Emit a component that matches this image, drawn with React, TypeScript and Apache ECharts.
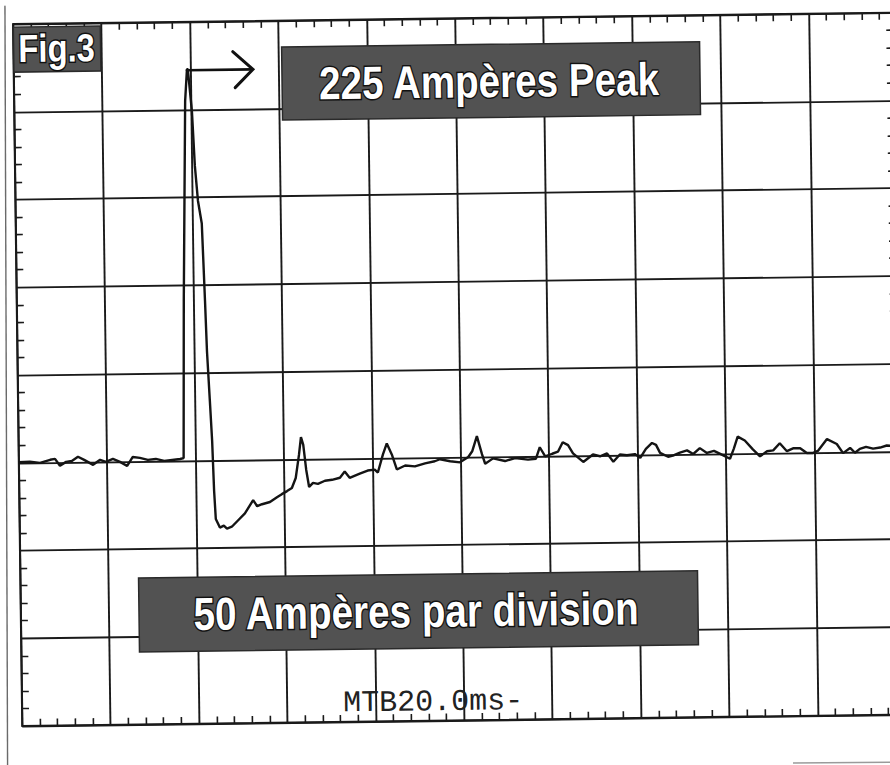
import { useEffect, useRef } from "react";
import * as echarts from "echarts";

// Oscilloscope trace: time (ms) and current (A)
const timeMs = [
  0, 2.5, 4.8, 7.1, 8.2, 9.3, 10.7, 12.0, 13.4, 14.8, 16.8, 18.4, 19.7, 21.3, 22.9, 24.5, 25.8, 27.4, 29.2, 31.0,
  32.9, 34.7, 36.5, 37.3,
  37.8, 38.7, 39.2, 39.4, 40.2, 40.7, 41.3, 42.1, 42.6, 42.9, 43.4, 43.8, 44.1, 44.4,
  45.3, 46.2, 46.9, 48.0, 49.4, 51.0, 52.9, 53.8, 54.9, 56.7, 58.3, 59.4, 60.6, 61.7, 62.6, 63.4, 63.9, 64.4, 65.0,
  65.6, 66.5, 67.6, 69.2, 70.8, 72.6, 73.7, 74.8, 77.1, 78.9, 80.5, 81.2, 82.4, 83.3, 84.4, 85.5, 87.4, 89.6, 91.9,
  94.1, 95.3,
  97.6, 99.8, 101.7, 102.6, 103.7, 104.8, 105.5, 107.3, 110.0, 112.3, 115.2, 117.0, 117.9, 119.1, 120.7, 122.0,
  123.1, 124.3, 125.4, 127.7, 129.9, 131.5, 133.1, 134.5, 136.0, 137.6, 139.4, 140.6, 141.9, 143.3, 144.2, 145.1,
  146.9, 148.0, 149.6, 151.2, 152.6, 154.1, 155.7, 157.3, 158.7, 160.9, 161.8, 162.7, 164.3, 166.1, 167.7, 169.3,
  170.7, 172.2, 173.8, 175.2, 176.8, 178.3, 179.7, 180.8, 182.9, 185.1, 186.5, 188.1, 189.2, 190.3, 191.7, 193.3,
  194.9, 196.4, 198.2, 200,
];
const currentA = [
  0.3, 0.5, -0.2, 1.5, 2.0, -2.0, 0.2, 0.7, 3.0, 1.2, -1.7, 1.1, -0.1, 1.5, -0.2, -2.6, 2.5, 1.9, 0.7, 1.2,
  0, 0.5, 1.0, 1.5,
  91, 205, 223, 223, 199, 168, 148, 135, 91, 62, 34, 11, -17.5, -33.5,
  -38.4, -37.3, -39, -38, -34.5, -30.5, -23, -26.5, -25.4, -24.2, -21.5, -19.8, -18.1, -16.4, -10.7, 2.4, 12.6, 8.1,
  -6.2, -15.9, -13.6, -14.2, -12.5, -12, -10.9, -7.4, -11, -8.7, -7, -6.5, -8.2, 2.1, 8.3, 2, -6.6, -4.4, -5, -3.3,
  -2.2, -1.1,
  -2.3, -3, 0, 3.2, 11.8, 1.5, -4, -1, -2.6, -1, -2, -1.5, 5, -0.3, 1.2, 2.3, 7.7, 6, 1.3, -3.7,
  0.5, -0.6, 1, -3.8, 0.3, -0.2, 0.4, -1.8, 3.3, 6.6, 5.5, 0.9, -1.4, -0.8, 0.9, 2.1, 0, 3.3, 0.5, 1.6,
  -0.1, -3, 2.8, 9.6, 7.3, 2.2, -1.8, 1, 1.5, 5.5, 0.9, 2.5, 2.5, -0.3, -0.3, 0.8, 7.5, 4.6, -0.6, 2.3,
  -0.5, 1.7, 2.8, 1.7, 2.3, 3.4, 3, 2.5,
];

// Axis ranges: 20 ms / division, 50 A / division
const xRange = [0, 200];
const xStep = 20;
const yRange = [-150, 250];
const yStep = 50;

// Texts
const figLabel = "Fig.3";
const peakLabel = "225 Ampères Peak";
const scaleLabel = "50 Ampères par division";
const timebaseLabel = "MTB20.0ms-";

const INK = "#1a1a1a";
const BOLD_FONT = '"Liberation Sans", Arial, sans-serif';

export default function App() {
  const ref = useRef<HTMLDivElement>(null);

  useEffect(() => {
    if (!ref.current) return;
    const chart = echarts.init(ref.current, undefined, { renderer: "svg" });
    const data = timeMs.map((t, i) => [t, currentA[i]]);

    const tickStyle = { color: INK, width: 1.6 };
    const baseX = {
      type: "value" as const,
      min: xRange[0],
      max: xRange[1],
      interval: xStep,
      axisLine: { show: false, onZero: false },
      axisLabel: { show: false },
      axisTick: { show: false, inside: true },
      minorTick: { show: true, splitNumber: 5, length: 7, lineStyle: tickStyle },
      minorSplitLine: { show: false },
    };
    const baseY = {
      type: "value" as const,
      min: yRange[0],
      max: yRange[1],
      interval: yStep,
      axisLine: { show: false, onZero: false },
      axisLabel: { show: false },
      axisTick: { show: false, inside: true },
      minorTick: { show: true, splitNumber: 5, length: 7, lineStyle: tickStyle },
      minorSplitLine: { show: false },
    };

    chart.setOption({
      animation: false,
      backgroundColor: "transparent",
      grid: {
        left: 17.8,
        top: 18.5,
        width: 884,
        height: 702,
        show: true,
        borderColor: INK,
        borderWidth: 2,
        backgroundColor: "transparent",
      },
      xAxis: [
        { ...baseX, position: "bottom", splitLine: { show: true, lineStyle: { color: INK, width: 1.9 } } },
        { ...baseX, position: "top", splitLine: { show: false } },
      ],
      yAxis: [
        { ...baseY, position: "left", splitLine: { show: true, lineStyle: { color: INK, width: 1.9 } } },
        {
          ...baseY,
          position: "right",
          splitLine: { show: false },
          minorTick: { show: true, splitNumber: 5, length: 11, lineStyle: tickStyle },
        },
      ],
      series: [
        {
          type: "line",
          xAxisIndex: 0,
          yAxisIndex: 0,
          data,
          showSymbol: false,
          symbol: "none",
          lineStyle: { color: "#141414", width: 2.4 },
          z: 5,
        },
      ],
    });

    // peak position from the data, for the arrow annotation
    let pk = 0;
    currentA.forEach((v, i) => {
      if (v > currentA[pk]) pk = i;
    });
    const p = chart.convertToPixel({ gridIndex: 0 }, [timeMs[pk], currentA[pk]]) as number[];
    const ax = p[0];
    const ay = p[1] + 1;
    const tipX = ax + 66;

    const boxStyle = { fill: "#525252", stroke: "#2a2a2a", lineWidth: 1.5 };
    const labelText = (text: string, x: number, y: number, size: number) => ({
      type: "text",
      x,
      y,
      scaleX: 0.84,
      z: 20,
      style: {
        text,
        fill: "#ffffff",
        stroke: "#111111",
        lineWidth: 3,
        strokeFirst: true,
        font: `bold ${size}px ${BOLD_FONT}`,
        align: "center",
        verticalAlign: "middle",
      },
    });

    chart.setOption({
      graphic: [
        // page edge
        { type: "line", z: 1, shape: { x1: 10, y1: -8, x2: 2.5, y2: 770 }, style: { stroke: "#6a6a6a", lineWidth: 1.4 } },
        { type: "line", z: 1, shape: { x1: 788, y1: 767.5, x2: 900, y2: 768 }, style: { stroke: "#9a9a9a", lineWidth: 1.5 } },
        // Fig.3
        { type: "rect", z: 10, shape: { x: 18, y: 21.5, width: 87, height: 45 }, style: boxStyle },
        labelText(figLabel, 61, 43, 39),
        // peak label
        { type: "rect", z: 10, shape: { x: 286, y: 45, width: 418, height: 73 }, style: boxStyle },
        labelText(peakLabel, 493, 82, 46),
        // scale label
        { type: "rect", z: 10, shape: { x: 136, y: 574, width: 559, height: 74 }, style: boxStyle },
        labelText(scaleLabel, 413, 611, 46),
        // arrow from the peak
        {
          type: "line",
          z: 12,
          shape: { x1: ax, y1: ay, x2: tipX - 1, y2: ay },
          style: { stroke: "#111", lineWidth: 2.6, lineCap: "round" },
        },
        {
          type: "polyline",
          z: 12,
          shape: { points: [[tipX - 20, ay - 18], [tipX, ay], [tipX - 18, ay + 18]] },
          style: { stroke: "#111", fill: "none", lineWidth: 3, lineCap: "round", lineJoin: "miter" },
        },
        // time base
        {
          type: "text",
          z: 12,
          x: 339,
          y: 702,
          style: {
            text: timebaseLabel,
            fill: "#222",
            font: '30px "Liberation Mono", "Courier New", monospace',
            align: "left",
            verticalAlign: "middle",
          },
        },
      ],
    });

    return () => chart.dispose();
  }, []);

  return (
    <div
      style={{
        position: "absolute",
        left: 0,
        top: 0,
        width: 890,
        height: 765,
        overflow: "hidden",
        background: "#ffffff",
      }}
    >
      <div
        ref={ref}
        style={{
          position: "absolute",
          left: 0,
          top: 0,
          width: 920,
          height: 780,
          transform: "rotate(-0.75deg)",
          transformOrigin: "445px 382.5px",
        }}
      />
    </div>
  );
}
